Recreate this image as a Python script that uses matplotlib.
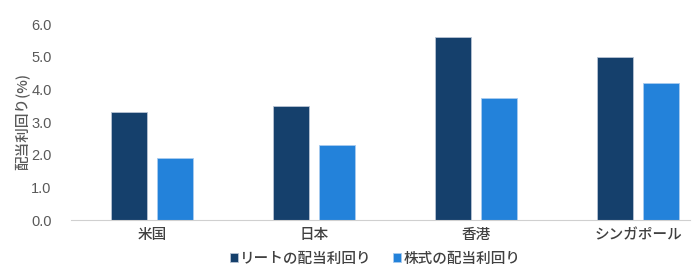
import numpy as np
import matplotlib.pyplot as plt

plt.rcParams['font.family'] = ['Noto Sans CJK JP', 'DejaVu Sans']

# データ
categories = ['米国', '日本', '香港', 'シンガポール']
reit_yield = [3.3, 3.5, 5.6, 5.0]
stock_yield = [1.9, 2.3, 3.75, 4.2]
y_ticks = [0.0, 1.0, 2.0, 3.0, 4.0, 5.0, 6.0]

dark = '#15406C'
light = '#2382DA'
grey = '#595959'

fig = plt.figure(figsize=(6.92, 2.78), dpi=100)
ax = fig.add_axes([71 / 692, 58 / 278, 619 / 692, 196 / 278])

x = np.arange(len(categories))
w = 0.222
off = 0.142
ax.bar(x - off, reit_yield, w, color=dark, edgecolor='#B8C4D4', linewidth=0.6, label='リートの配当利回り')
ax.bar(x + off, stock_yield, w, color=light, edgecolor='#A9CBEF', linewidth=0.6, label='株式の配当利回り')

ax.set_xlim(-0.5, 3.32)
ax.set_ylim(0, 6.0)
ax.set_yticks(y_ticks)
ax.set_yticklabels([f'{v:.1f}' for v in y_ticks], color=grey, fontsize=10.5, family=['Liberation Sans', 'DejaVu Sans'])
ax.set_xticks(x)
ax.set_xticklabels(categories, color='#404040', fontsize=10.5, weight='medium')
ax.tick_params(axis='both', length=0)
ax.tick_params(axis='y', pad=14)
ax.tick_params(axis='x', pad=6)

for s in ['top', 'right', 'left']:
    ax.spines[s].set_visible(False)
ax.spines['bottom'].set_color('#D0D0D0')

ax.set_ylabel('配当利回り(%)', color=grey, fontsize=10.5, weight='medium', labelpad=1)

leg = fig.legend(loc='center', bbox_to_anchor=(375 / 692, 1 - 259 / 278), ncol=2, frameon=False,
                 prop={'size': 10.5, 'weight': 'medium'}, handlelength=0.55, handleheight=0.55,
                 handletextpad=0.15, columnspacing=1.5)
for t in leg.get_texts():
    t.set_color('#404040')

fig.savefig('out.png', dpi=100)
